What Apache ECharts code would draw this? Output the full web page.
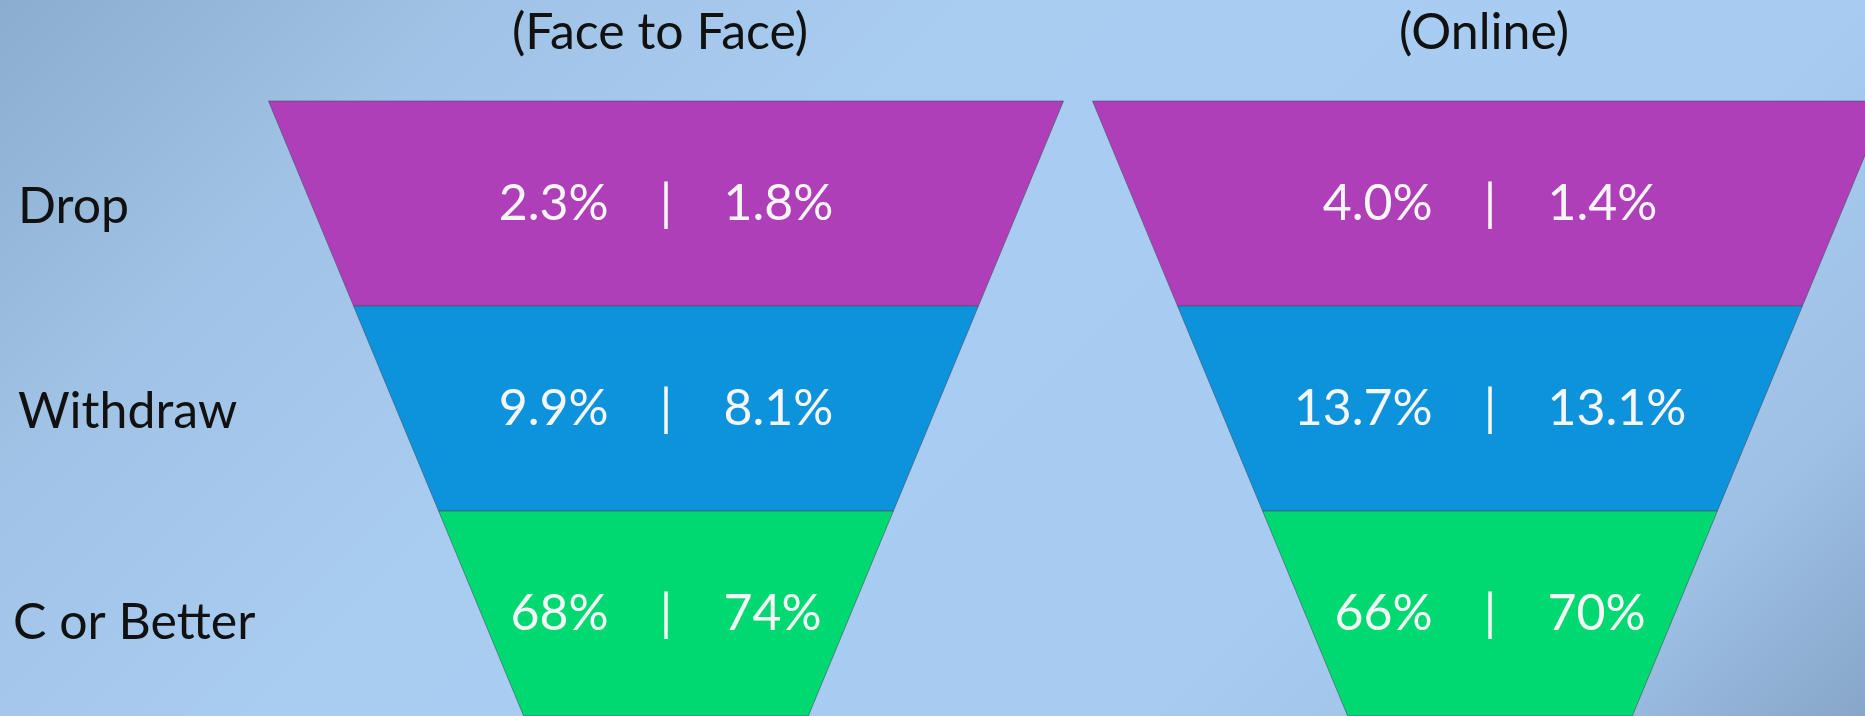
<!DOCTYPE html>
<html>
<head>
<meta charset="utf-8">
<script src="https://cdn.jsdelivr.net/npm/echarts@6/dist/echarts.min.js"></script>
<style>
  html, body { margin: 0; padding: 0; }
  #chart { width: 1865px; height: 716px; }
</style>
</head>
<body>
<div id="chart"></div>
<script>
// categories (rows of both funnels)
var categories = ['Drop', 'Withdraw', 'C or Better'];
// panel titles
var panels = ['(Face to Face)', '(Online)'];
// percent pairs shown in each band
var faceLeft = [2.3, 9.9, 68];
var faceRight = [1.8, 8.1, 74];
var onlineLeft = [4.0, 13.7, 66];
var onlineRight = [1.4, 13.1, 70];
// funnel band size (only drives the shape)
var levels = [3, 2, 1];

var colors = ['#ae3fb9', '#0d93dc', '#00d972'];

var fTop = 101, fHeight = 615, fWidth = 795;
var centers = [666, 1490];

function fmt(v) {
    return v < 20 ? v.toFixed(1) + '%' : v.toFixed(0) + '%';
}

function funnel(idx, leftVals, rightVals) {
    return {
        type: 'funnel',
        sort: 'none',
        left: centers[idx] - fWidth / 2,
        top: fTop,
        width: fWidth,
        height: fHeight,
        min: 0,
        max: 3,
        minSize: '35.8%',
        maxSize: '100%',
        gap: 0,
        silent: true,
        label: {
            show: true,
            position: 'inside',
            color: '#f6f6f6',
            fontFamily: 'Lato',
            fontSize: 50,
            formatter: function (p) {
                return fmt(leftVals[p.dataIndex]) + '    |    ' + fmt(rightVals[p.dataIndex]);
            }
        },
        labelLine: { show: false },
        itemStyle: {
            borderColor: 'rgba(70,80,100,0.6)',
            borderWidth: 1
        },
        data: categories.map(function (c, i) {
            var d = { name: c, value: levels[i], itemStyle: { color: colors[i] } };
            if (i == 2) d.label = { padding: [18, 0, 0, 0] }; // last band text sits a bit lower
            return d;
        })
    };
}

var myChart = echarts.init(document.getElementById('chart'));

var graphics = [];
panels.forEach(function (t, i) {
    graphics.push({
        type: 'text', x: centers[i] - 6, y: 33,
        style: { text: t, font: '50px Lato', fill: '#111', align: 'center', verticalAlign: 'middle' }
    });
});
categories.forEach(function (c, i) {
    graphics.push({
        type: 'text', x: i == 2 ? 13 : 18, y: fTop + (i + 0.5) * fHeight / 3 + (i == 2 ? 9 : 3),
        style: { text: c, font: '50px Lato', fill: '#111', align: 'left', verticalAlign: 'middle' }
    });
});

var option = {
    // 45 degree background gradient, dark in the top-left and bottom-right corners
    backgroundColor: {
        type: 'linear', x: 0, y: 0, x2: 1290, y2: 1290, global: true,
        colorStops: [
            { offset: 0, color: '#8badcf' },
            { offset: 0.18, color: '#9fc2e5' },
            { offset: 0.38, color: '#a9cdf1' },
            { offset: 0.72, color: '#a8ccf1' },
            { offset: 0.88, color: '#9dc0e4' },
            { offset: 1, color: '#87a6c9' }
        ]
    },
    animation: false,
    graphic: graphics,
    series: [
        funnel(0, faceLeft, faceRight),
        funnel(1, onlineLeft, onlineRight)
    ]
};
myChart.setOption(option);
</script>
</body>
</html>
